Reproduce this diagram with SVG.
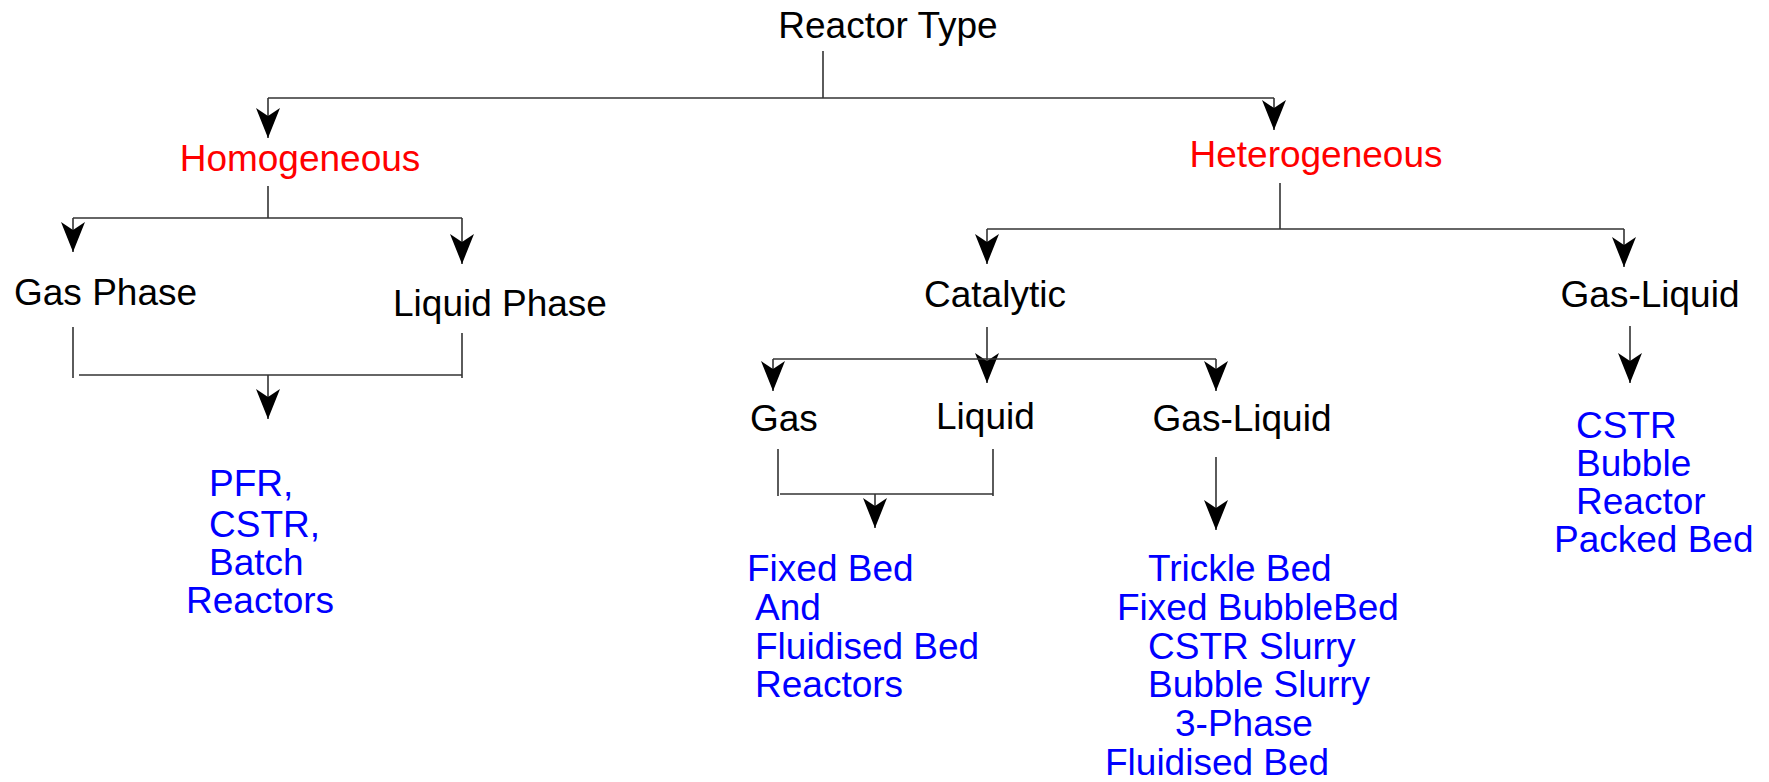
<svg xmlns="http://www.w3.org/2000/svg" width="1769" height="782" viewBox="0 0 1769 782">
<style>
text{font-family:"Liberation Sans",Arial,sans-serif;font-size:37px}
.k{fill:#000}
.r{fill:#ff0000}
.b{fill:#0000ff}
.c line,.c path{stroke:#333;stroke-width:1.6;fill:none}
</style>
<defs>
<marker id="ah" viewBox="0 0 30 24" refX="30" refY="12" markerWidth="30" markerHeight="24" markerUnits="userSpaceOnUse" orient="auto">
<path d="M0,0 L30,12 L0,24 L8,12 Z" fill="#000"/>
</marker>
</defs>
<rect width="1769" height="782" fill="#fff"/>
<g id="connectors" class="c">
<line x1="823" y1="51" x2="823" y2="98"/>
<line x1="268" y1="98" x2="1274" y2="98"/>
<line x1="268" y1="98" x2="268" y2="138" marker-end="url(#ah)"/>
<line x1="1274" y1="98" x2="1274" y2="130" marker-end="url(#ah)"/>
<line x1="268" y1="186" x2="268" y2="218"/>
<line x1="73" y1="218" x2="462" y2="218"/>
<line x1="73" y1="218" x2="73" y2="252" marker-end="url(#ah)"/>
<line x1="462" y1="218" x2="462" y2="264" marker-end="url(#ah)"/>
<line x1="73" y1="327" x2="73" y2="378"/>
<line x1="462" y1="333" x2="462" y2="378"/>
<line x1="79" y1="375" x2="462" y2="375"/>
<line x1="268" y1="375" x2="268" y2="419" marker-end="url(#ah)"/>
<line x1="1280" y1="183" x2="1280" y2="229"/>
<line x1="987" y1="229" x2="1624" y2="229"/>
<line x1="987" y1="229" x2="987" y2="264" marker-end="url(#ah)"/>
<line x1="1624" y1="229" x2="1624" y2="267" marker-end="url(#ah)"/>
<line x1="987" y1="327" x2="987" y2="383" marker-end="url(#ah)"/>
<line x1="773" y1="359" x2="1216" y2="359"/>
<line x1="773" y1="359" x2="773" y2="391" marker-end="url(#ah)"/>
<line x1="1216" y1="359" x2="1216" y2="391" marker-end="url(#ah)"/>
<line x1="778" y1="449" x2="778" y2="496"/>
<line x1="993" y1="449" x2="993" y2="496"/>
<line x1="780" y1="494" x2="993" y2="494"/>
<line x1="875" y1="494" x2="875" y2="528" marker-end="url(#ah)"/>
<line x1="1216" y1="457" x2="1216" y2="530" marker-end="url(#ah)"/>
<line x1="1630" y1="326" x2="1630" y2="383" marker-end="url(#ah)"/>
</g>
<g id="n-reactor-type"><text class="k" x="888" y="38" text-anchor="middle">Reactor Type</text></g>
<g id="n-homogeneous"><text class="r" x="300" y="171" text-anchor="middle">Homogeneous</text></g>
<g id="n-heterogeneous"><text class="r" x="1316" y="167" text-anchor="middle">Heterogeneous</text></g>
<g id="n-gas-phase"><text class="k" x="14" y="305">Gas Phase</text></g>
<g id="n-liquid-phase"><text class="k" x="393" y="316">Liquid Phase</text></g>
<g id="n-homog-reactors"><text class="b" x="209" y="496">PFR,</text><text class="b" x="209" y="537">CSTR,</text><text class="b" x="209" y="575">Batch</text><text class="b" x="186" y="613">Reactors</text></g>
<g id="n-catalytic"><text class="k" x="995" y="307" text-anchor="middle">Catalytic</text></g>
<g id="n-gas-liquid-r"><text class="k" x="1650" y="307" text-anchor="middle">Gas-Liquid</text></g>
<g id="n-gas"><text class="k" x="750" y="431">Gas</text></g>
<g id="n-liquid"><text class="k" x="936" y="429">Liquid</text></g>
<g id="n-gas-liquid-c"><text class="k" x="1242" y="431" text-anchor="middle">Gas-Liquid</text></g>
<g id="n-fixed-fluid"><text class="b" x="747" y="581">Fixed Bed</text><text class="b" x="755" y="620">And</text><text class="b" x="755" y="659">Fluidised Bed</text><text class="b" x="755" y="697">Reactors</text></g>
<g id="n-gl-cat-reactors"><text class="b" x="1148" y="581">Trickle Bed</text><text class="b" x="1117" y="620">Fixed BubbleBed</text><text class="b" x="1148" y="659">CSTR Slurry</text><text class="b" x="1148" y="697">Bubble Slurry</text><text class="b" x="1175" y="736">3-Phase</text><text class="b" x="1105" y="775">Fluidised Bed</text></g>
<g id="n-gl-reactors"><text class="b" x="1576" y="438">CSTR</text><text class="b" x="1576" y="476">Bubble</text><text class="b" x="1576" y="514">Reactor</text><text class="b" x="1554" y="552">Packed Bed</text></g>
</svg>
